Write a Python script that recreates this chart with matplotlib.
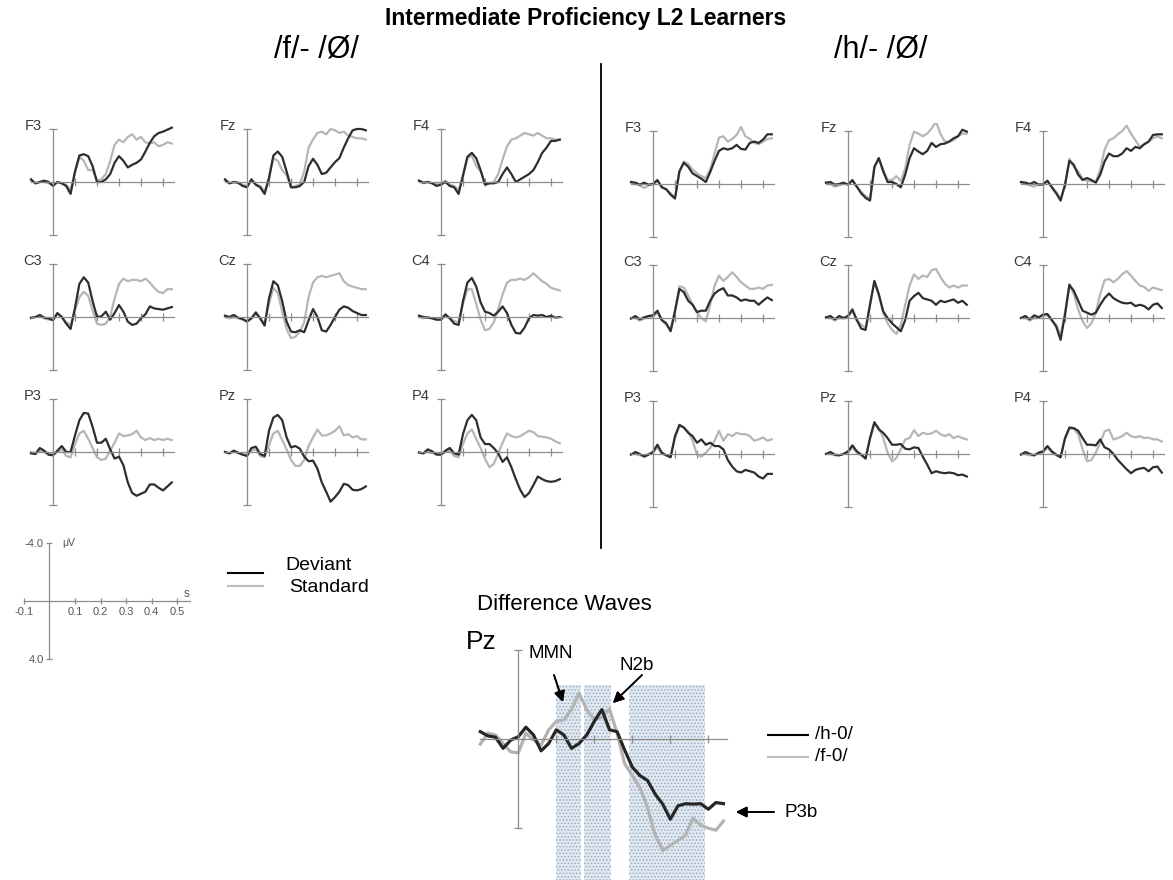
import numpy as np
import matplotlib.pyplot as plt
from matplotlib.lines import Line2D
from matplotlib.patches import Rectangle

plt.rcParams['font.family'] = ['Liberation Sans', 'DejaVu Sans']
plt.rcParams['hatch.linewidth'] = 0.7

W, H = 1173, 880
fig = plt.figure(figsize=(W / 100, H / 100), dpi=100)

# time axis in s, values in microvolts (negative up)
t = np.round(np.arange(-0.1, 0.541, 0.02), 2)

names = [['F3', 'Fz', 'F4'], ['C3', 'Cz', 'C4'], ['P3', 'Pz', 'P4']]

# ---- /f/ - /0/ ----
f_F3_dev = [-0.2, 0.1, 0, -0.1, 0, 0.3, 0, 0.1, 0.3, 0.9, -0.8, -2.0, -2.1, -1.95, -1.2, 0, 0, -0.2, -0.6, -1.45,
            -1.95, -1.6, -1.1, -1.3, -1.45, -1.7, -2.3, -2.95, -3.45, -3.7, -3.8, -3.95, -4.1]
f_F3_std = [-0.1, 0.1, 0, 0, 0.1, 0.2, 0, 0.1, 0.2, 0.6, -0.7, -1.9, -1.6, -0.9, -0.9, -0.1, -0.2, -0.6, -1.6, -2.8,
            -3.2, -3.0, -3.4, -3.6, -3.2, -3.4, -3.0, -2.9, -3.0, -2.7, -2.8, -3.0, -2.9]
f_Fz_dev = [-0.2, 0.1, 0, 0.05, 0.3, 0.4, -0.2, 0.2, 0.4, 0.9, -0.3, -2.0, -2.3, -1.9, -0.8, 0.4, 0.4, 0.3, 0, -1.2,
            -1.75, -1.3, -0.6, -0.7, -1.1, -1.5, -1.8, -2.6, -3.3, -3.9, -4.0, -4.0, -3.9]
f_Fz_std = [-0.1, 0.1, 0, 0.1, 0.2, 0.3, -0.1, 0.2, 0.3, 0.7, -0.3, -1.8, -1.6, -0.9, -0.5, 0.4, 0.3, 0.2, -0.8, -2.6,
            -3.2, -3.7, -3.8, -3.6, -4.0, -3.9, -3.7, -3.8, -3.5, -3.4, -3.3, -3.3, -3.2]
f_F4_dev = [-0.1, 0.05, 0, 0.1, 0.3, 0.2, 0, 0.3, 0.4, 0.9, -0.5, -1.9, -2.2, -1.8, -0.9, 0.2, 0.1, 0.1, 0, -0.6,
            -1.1, -0.6, 0, -0.2, -0.4, -0.6, -0.9, -1.5, -2.2, -2.6, -3.1, -3.1, -3.2]
f_F4_std = [-0.1, 0.1, 0, 0.1, 0.2, 0.1, -0.1, 0.2, 0.3, 0.6, -0.4, -1.8, -2.0, -1.2, -0.8, 0.1, 0.1, 0, -0.6, -1.7,
            -2.7, -3.2, -3.3, -3.5, -3.7, -3.6, -3.5, -3.7, -3.5, -3.3, -3.3, -3.2, -3.2]
f_C3_dev = [0.05, 0, -0.15, 0.05, 0.1, 0.25, -0.3, 0, 0.5, 0.9, -0.7, -2.5, -3.0, -2.6, -1.2, 0, -0.05, -0.4, 0.2, -0.3,
            -0.9, -0.4, 0.35, 0.6, 0.5, 0.1, -0.2, -0.8, -0.65, -0.6, -0.55, -0.65, -0.75]
f_C3_std = [0.1, 0, -0.1, 0.1, 0.2, 0.2, -0.2, 0, 0.4, 0.6, -0.5, -1.5, -1.9, -1.6, -0.5, 0.5, 0.6, 0.5, 0, -1.4,
            -2.5, -2.9, -2.7, -2.8, -2.8, -2.7, -2.9, -2.6, -2.2, -1.9, -1.8, -2.1, -2.1]
f_Cz_dev = [-0.1, 0, -0.15, 0.05, 0.15, 0.35, 0.1, -0.35, 0.1, 0.65, -1.4, -2.7, -2.4, -1.2, 0.35, 1.1, 1.15, 1.0, 1.15, 0.25,
            -0.6, 0, 1.0, 1.1, 0.6, 0, -0.55, -0.8, -0.7, -0.45, -0.3, -0.15, -0.15]
f_Cz_std = [0, 0.1, 0, 0.1, 0.2, 0.3, 0.1, -0.2, 0.1, 0.5, -1.0, -2.2, -1.8, -0.4, 0.9, 1.6, 1.5, 1.1, 0.4, -1.5,
            -2.6, -3.0, -3.1, -3.0, -3.1, -3.2, -3.3, -2.7, -2.4, -2.3, -2.2, -2.1, -2.1]
f_C4_dev = [-0.1, 0, 0.05, 0.1, 0.2, 0.2, -0.2, 0.1, 0.5, 0.6, -1.2, -2.6, -2.95, -2.3, -1.1, -0.4, -0.3, -0.1, -0.4, -0.8,
            -0.3, 0.6, 1.2, 1.25, 0.8, 0.1, -0.15, -0.1, -0.15, 0, -0.1, 0.05, 0]
f_C4_std = [0, 0.1, 0, 0.1, 0.2, 0.2, -0.1, 0.1, 0.3, 0.4, -1.0, -2.1, -2.1, -1.0, 0.2, 1.0, 0.9, 0.4, -0.6, -1.7,
            -2.6, -2.8, -2.8, -2.9, -2.8, -3.0, -3.3, -3.0, -2.7, -2.5, -2.2, -2.1, -2.0]
f_P3_dev = [0.1, 0.15, -0.3, -0.1, 0.2, 0.25, -0.1, -0.45, 0, 0, -1.25, -2.4, -2.95, -2.9, -1.9, -0.7, -0.7, -1.0, -0.2, 0.5,
            0.35, 1.0, 2.3, 3.1, 3.3, 3.15, 3.0, 2.45, 2.45, 2.7, 2.9, 2.6, 2.3]
f_P3_std = [0, 0.1, -0.1, 0, 0.2, 0.15, 0, -0.2, 0.3, 0.4, -0.6, -1.4, -1.6, -1.0, -0.3, 0.4, 0.6, 0.5, -0.1, -0.7,
            -1.4, -1.2, -1.25, -1.35, -1.6, -1.1, -0.9, -1.05, -0.9, -1.0, -0.9, -1.0, -0.9]
f_Pz_dev = [0, 0.1, -0.1, 0.05, 0.2, 0.3, -0.3, -0.4, 0.15, 0.3, -1.6, -2.6, -2.8, -2.4, -1.1, -0.35, -0.45, -0.25, 0.35, 0.7,
            0.65, 1.25, 2.3, 3.0, 3.75, 3.4, 3.0, 2.4, 2.5, 2.85, 2.9, 2.8, 2.6]
f_Pz_std = [0, 0.1, 0, 0.1, 0.2, 0.2, -0.1, -0.2, 0.3, 0.4, -0.5, -1.4, -1.6, -0.9, -0.2, 0.6, 1.05, 1.05, 0.6, -0.45,
            -1.1, -1.7, -1.25, -1.25, -1.4, -1.6, -1.95, -1.25, -1.35, -1.1, -1.2, -0.95, -0.95]
f_P4_dev = [0.05, 0.1, -0.2, -0.05, 0.2, 0.2, -0.1, -0.3, 0.1, 0.2, -1.35, -2.4, -2.8, -2.4, -1.1, -0.6, -0.6, -0.3, 0.1, 0.75,
            0.4, 1.15, 2.05, 2.85, 3.4, 3.1, 2.5, 1.85, 2.05, 2.2, 2.25, 2.2, 2.05]
f_P4_std = [0, 0.1, 0, 0.1, 0.1, 0.2, 0, -0.1, 0.3, 0.4, -0.6, -1.4, -1.7, -1.0, -0.3, 0.5, 1.15, 0.9, 0.1, -0.7,
            -1.4, -1.2, -1.1, -1.2, -1.4, -1.6, -1.5, -1.2, -1.15, -1.1, -1.0, -0.8, -0.65]

# ---- /h/ - /0/ ----
h_F3_dev = [-0.15, -0.1, 0.05, -0.1, 0.05, 0, -0.3, 0.25, 0.4, 0.8, 1.1, -0.95, -1.6, -1.3, -0.8, -0.6, -0.4, -0.15, -0.9, -1.75,
            -2.5, -2.7, -2.6, -2.7, -2.95, -2.65, -2.6, -3.1, -3.2, -3.1, -3.35, -3.75, -3.75]
h_F3_std = [-0.1, 0, 0.1, 0.3, 0.1, 0, -0.2, 0.2, 0.4, 0.7, 1.0, -0.9, -1.7, -1.5, -1.1, -0.8, -0.6, -0.45, -1.1, -2.3,
            -3.5, -3.6, -3.2, -3.4, -3.7, -4.3, -3.6, -3.4, -3.1, -3.0, -3.2, -3.4, -3.45]
h_Fz_dev = [-0.1, -0.15, 0.05, 0, -0.1, 0.05, -0.3, 0.2, 0.7, 1.05, 1.25, -1.3, -1.95, -0.95, -0.15, -0.15, 0, 0.25, -0.7, -1.95,
            -2.7, -2.45, -2.25, -2.5, -3.1, -2.8, -3.0, -3.05, -3.2, -3.45, -3.6, -4.1, -3.95]
h_Fz_std = [-0.1, 0, 0.2, 0.1, 0, 0, -0.2, 0.2, 0.6, 0.9, 1.1, -1.2, -1.95, -1.1, -0.3, -0.3, -0.6, -0.2, -1.2, -2.95,
            -3.95, -3.8, -3.6, -3.8, -4.2, -4.7, -3.8, -3.2, -3.2, -3.3, -3.6, -3.8, -3.8]
h_F4_dev = [-0.15, -0.1, 0, -0.15, 0.05, 0.05, -0.25, 0.25, 0.7, 1.25, 0.05, -1.75, -1.45, -0.7, -0.3, -0.45, -0.3, -0.1, -0.7, -1.7,
            -2.3, -2.1, -2.1, -2.3, -2.7, -2.5, -2.8, -2.7, -3.0, -3.2, -3.7, -3.75, -3.75]
h_F4_std = [-0.1, 0, 0.1, 0.2, 0, 0, -0.2, 0.2, 0.6, 1.1, 0.1, -1.9, -1.3, -0.95, -0.4, -0.25, -0.2, -0.15, -1.1, -2.6,
            -3.3, -3.45, -3.75, -4.0, -4.4, -3.8, -3.3, -2.8, -3.0, -3.2, -3.45, -3.6, -3.45]
h_C3_dev = [0.05, -0.15, 0.1, -0.05, -0.15, -0.2, -0.55, 0.15, 0.4, 1.0, -0.5, -2.2, -1.95, -1.3, -1.0, -0.45, -0.55, -0.55, -1.3, -1.85,
            -2.1, -2.25, -1.7, -1.7, -1.55, -1.3, -1.4, -1.3, -1.3, -1.0, -1.3, -1.55, -1.35]
h_C3_std = [0, 0, 0.2, 0.05, -0.1, -0.1, -0.4, 0.2, 0.5, 0.9, -0.6, -2.4, -2.3, -1.7, -1.0, -0.4, 0, 0.25, -1.0, -2.45,
            -3.2, -2.8, -3.1, -3.45, -3.1, -2.7, -2.45, -2.2, -2.2, -2.3, -2.2, -2.45, -2.5]
h_Cz_dev = [-0.05, -0.15, 0.1, -0.15, 0, -0.15, -0.65, 0.15, 0.8, 0.9, -1.0, -2.8, -1.8, -0.5, 0, 0.4, 0.7, 1.0, 0.15, -1.3,
            -1.65, -1.9, -1.5, -1.4, -1.3, -1.0, -1.3, -1.2, -1.3, -1.4, -1.15, -1.3, -1.0]
h_Cz_std = [0, 0, 0.2, 0, 0.05, -0.1, -0.5, 0.2, 0.5, 0.75, -1.0, -2.7, -1.7, -0.4, 0.4, 0.9, 1.2, 0.5, -1.0, -2.45,
            -3.3, -2.95, -3.2, -3.1, -3.6, -3.7, -3.1, -2.6, -2.3, -2.45, -2.3, -2.45, -2.45]
h_C4_dev = [0, -0.15, 0.1, -0.2, -0.05, -0.25, -0.3, 0.15, 0.65, 1.65, -0.25, -2.5, -2.05, -1.3, -0.55, -0.4, -0.25, -0.4, -1.0, -1.5,
            -1.85, -1.5, -1.3, -1.15, -1.1, -1.15, -0.9, -1.0, -0.9, -0.65, -1.0, -1.1, -0.75]
h_C4_std = [0, 0, 0.2, 0, 0, -0.2, -0.2, 0.2, 0.5, 1.3, -0.4, -2.55, -1.8, -0.65, 0.25, 0.75, 0.4, -0.4, -1.8, -2.85,
            -2.95, -2.7, -2.95, -3.3, -3.55, -3.2, -2.8, -2.45, -2.35, -2.05, -2.3, -2.2, -2.1]
h_P3_dev = [0.05, -0.15, 0, 0.2, 0.05, -0.15, -0.7, -0.1, 0.1, 0.25, -1.35, -2.2, -2.0, -1.6, -1.35, -0.85, -1.1, -0.7, -0.85, -0.6,
            -0.6, -0.35, 0.45, 0.95, 1.3, 1.4, 1.2, 1.3, 1.4, 1.7, 1.85, 1.5, 1.5]
h_P3_std = [0, 0, 0.1, 0.1, 0, -0.1, -0.5, 0, 0.1, 0.2, -1.2, -2.1, -2.0, -1.7, -1.0, 0.05, 0.2, -0.1, -0.45, -1.0,
            -1.75, -1.0, -1.5, -1.35, -1.6, -1.5, -1.5, -1.35, -1.0, -1.1, -1.25, -1.0, -1.1]
h_Pz_dev = [0, -0.15, 0.05, 0.1, 0, -0.2, -0.65, -0.2, 0.05, 0.35, -1.2, -2.4, -1.85, -1.6, -1.2, -0.7, -0.7, -0.75, -0.4, -0.35,
            -0.5, -0.45, 0.2, 0.8, 1.45, 1.3, 1.4, 1.45, 1.4, 1.45, 1.6, 1.55, 1.7]
h_Pz_std = [0, 0, 0.1, 0.1, 0, -0.1, -0.5, -0.1, 0.1, 0.3, -1.1, -2.3, -2.0, -1.2, -0.1, 0.55, 0.3, -0.35, -1.1, -1.2,
            -1.8, -1.35, -1.6, -1.5, -1.55, -1.75, -1.5, -1.35, -1.5, -1.2, -1.35, -1.2, -1.1]
h_P4_dev = [0.05, -0.15, 0, 0.1, -0.1, -0.2, -0.6, -0.2, 0.05, 0.25, -1.2, -2.0, -1.95, -1.75, -1.2, -0.7, -0.7, -0.65, -1.1, -0.5,
            -0.35, 0, 0.45, 0.8, 1.15, 1.45, 1.2, 1.1, 1.05, 1.3, 1.0, 0.95, 1.4]
h_P4_std = [0, 0, 0.1, 0.1, -0.05, -0.1, -0.5, -0.1, 0.1, 0.2, -1.1, -1.9, -1.9, -1.5, -0.35, 0.55, 0.45, -0.1, -0.85, -1.7,
            -1.85, -1.1, -1.2, -1.35, -1.6, -1.35, -1.25, -1.35, -1.2, -1.25, -1.1, -1.1, -0.95]

# ---- difference waves at Pz ----
diff_h = [-0.33, -0.14, -0.08, 0.42, 0.05, -0.1, -0.53, -0.18, 0.53, 0.2, -0.41, -0.18, 0.42, 0.2, -0.18, -0.79, -1.32, -0.41,
          -0.33, 0.5, 1.26, 1.64, 1.86, 2.47, 2.92, 3.6, 3.0, 2.9, 2.92, 2.9, 3.15, 2.85, 2.9]
diff_f = [0.23, -0.26, -0.18, 0.2, 0.58, 0.62, -0.26, 0.05, 0.27, -0.41, -0.79, -0.86, -1.32, -2.05, -1.32, -0.86, -0.98, -1.35,
          -0.26, 1.11, 1.64, 2.17, 3.08, 4.3, 5.0, 4.77, 4.55, 4.32, 3.56, 3.86, 4.0, 4.09, 3.68]
windows = [(0.1, 0.166), (0.174, 0.244), (0.292, 0.49)]

f_cond = {'F3': (f_F3_dev, f_F3_std), 'Fz': (f_Fz_dev, f_Fz_std), 'F4': (f_F4_dev, f_F4_std),
          'C3': (f_C3_dev, f_C3_std), 'Cz': (f_Cz_dev, f_Cz_std), 'C4': (f_C4_dev, f_C4_std),
          'P3': (f_P3_dev, f_P3_std), 'Pz': (f_Pz_dev, f_Pz_std), 'P4': (f_P4_dev, f_P4_std)}
h_cond = {'F3': (h_F3_dev, h_F3_std), 'Fz': (h_Fz_dev, h_Fz_std), 'F4': (h_F4_dev, h_F4_std),
          'C3': (h_C3_dev, h_C3_std), 'Cz': (h_Cz_dev, h_Cz_std), 'C4': (h_C4_dev, h_C4_std),
          'P3': (h_P3_dev, h_P3_std), 'Pz': (h_Pz_dev, h_Pz_std), 'P4': (h_P4_dev, h_P4_std)}

DEV = '#2e2e2e'
STD = '#b6b6b6'
AXC = '#8c8c8c'


def px(x, y):
    return x / W, 1 - y / H


def panel(x0, y0, pps, ppu, tlim=(-0.12, 0.57), vlim=(-4.6, 4.6)):
    # x0, y0: pixel position of t=0 / 0 uV
    left = x0 + tlim[0] * pps
    top = y0 + vlim[0] * ppu
    w = (tlim[1] - tlim[0]) * pps
    h = (vlim[1] - vlim[0]) * ppu
    ax = fig.add_axes([left / W, 1 - (top + h) / H, w / W, h / H])
    ax.set_xlim(*tlim)
    ax.set_ylim(vlim[1], vlim[0])
    ax.patch.set_visible(False)
    ax.spines['top'].set_visible(False)
    ax.spines['right'].set_visible(False)
    ax.spines['left'].set_position(('data', 0))
    ax.spines['bottom'].set_position(('data', 0))
    ax.spines['left'].set_bounds(-4, 4)
    ax.spines['bottom'].set_bounds(-0.1, 0.55)
    for s in ['left', 'bottom']:
        ax.spines[s].set_color(AXC)
        ax.spines[s].set_linewidth(0.9)
    ax.set_xticks([0.1, 0.2, 0.3, 0.4, 0.5])
    ax.set_yticks([-4, 4])
    ax.tick_params(direction='inout', length=6, width=0.9, colors=AXC,
                   labelbottom=False, labelleft=False)
    return ax


# electrode grids
groups = [(f_cond, [53, 247, 441], [182, 317, 452]),
          (h_cond, [653, 848, 1043], [184, 318, 454])]
for cond, xs, ys in groups:
    for r in range(3):
        for c in range(3):
            name = names[r][c]
            dev, std = cond[name]
            ax = panel(xs[c], ys[r], 220, 13.25)
            ax.plot(t, std, color=STD, lw=1.6)
            ax.plot(t, dev, color=DEV, lw=1.6)
            fig.text(*px(xs[c] - 11, ys[r] - 56), name, ha='right', va='center',
                     fontsize=10.5, color='#3a3a3a')

# titles
fig.text(*px(586, 18), 'Intermediate Proficiency L2 Learners', ha='center', va='center',
         fontsize=16.5, fontweight='bold')
fig.text(*px(316, 50), '/f/- /Ø/', ha='center', va='center', fontsize=22)
fig.text(*px(881, 50), '/h/- /Ø/', ha='center', va='center', fontsize=22)
fig.add_artist(Line2D([601 / W, 601 / W], [1 - 64 / H, 1 - 548 / H], color='black', lw=1.3))

# scale legend
sax = panel(49.3, 601, 256, 14.5, tlim=(-0.16, 0.6))
sax.set_xticks([-0.1, 0.1, 0.2, 0.3, 0.4, 0.5])
sax.set_xticklabels(['-0.1', '0.1', '0.2', '0.3', '0.4', '0.5'])
sax.set_yticklabels(['-4.0', '4.0'])
sax.tick_params(labelbottom=True, labelleft=True, labelsize=8, labelcolor='#555555',
                length=5, pad=1.5)
sax.text(0.535, -0.5, 's', fontsize=8.5, color='#555555', ha='center', va='center')
sax.text(0.05, -4, 'μV', fontsize=7.5, color='#555555', ha='left', va='center')

# condition legend
fig.add_artist(Line2D([228 / W, 263 / W], [1 - 573 / H] * 2, color='black', lw=1.5))
fig.add_artist(Line2D([228 / W, 263 / W], [1 - 586 / H] * 2, color='#bdbdbd', lw=1.5))
fig.text(*px(285, 566), 'Deviant', ha='left', va='center', fontsize=14)
fig.text(*px(289, 587), 'Standard', ha='left', va='center', fontsize=14)

# difference waves
fig.text(*px(564, 604), 'Difference Waves', ha='center', va='center', fontsize=16)
dax = panel(518.3, 739, 380, 22.3, tlim=(-0.12, 0.57), vlim=(-4.4, 6.4))
for a, b in windows:
    dax.add_patch(Rectangle((a, -2.42), b - a, 9.0, facecolor='#e2e9f1', edgecolor='#95abc2',
                            hatch='.....', lw=0, zorder=0.5))
dax.plot(t, diff_f, color='#b3b3b3', lw=2.3)
dax.plot(t, diff_h, color='#262626', lw=2.3)

fig.text(*px(466, 642), 'Pz', ha='left', va='center', fontsize=19)
fig.text(*px(551, 653), 'MMN', ha='center', va='center', fontsize=13.5)
fig.text(*px(637, 665), 'N2b', ha='center', va='center', fontsize=13.5)
fig.text(*px(784, 812), 'P3b', ha='left', va='center', fontsize=13.5)
arrow = dict(arrowstyle='-|>', mutation_scale=16, lw=1.2, color='black', shrinkA=0, shrinkB=0)
fig.add_artist(plt.annotate('', xy=px(563, 702), xytext=px(554, 675), xycoords='figure fraction',
                            textcoords='figure fraction', arrowprops=arrow))
fig.add_artist(plt.annotate('', xy=px(613, 703), xytext=px(642, 675), xycoords='figure fraction',
                            textcoords='figure fraction', arrowprops=arrow))
fig.add_artist(plt.annotate('', xy=px(736, 812), xytext=px(774, 812), xycoords='figure fraction',
                            textcoords='figure fraction', arrowprops=arrow))

fig.add_artist(Line2D([768 / W, 808 / W], [1 - 735 / H] * 2, color='black', lw=1.5))
fig.add_artist(Line2D([768 / W, 808 / W], [1 - 757 / H] * 2, color='#bdbdbd', lw=1.5))
fig.text(*px(815, 734), '/h-0/', ha='left', va='center', fontsize=13.5)
fig.text(*px(815, 756), '/f-0/', ha='left', va='center', fontsize=13.5)

fig.savefig('out.png', dpi=100)
